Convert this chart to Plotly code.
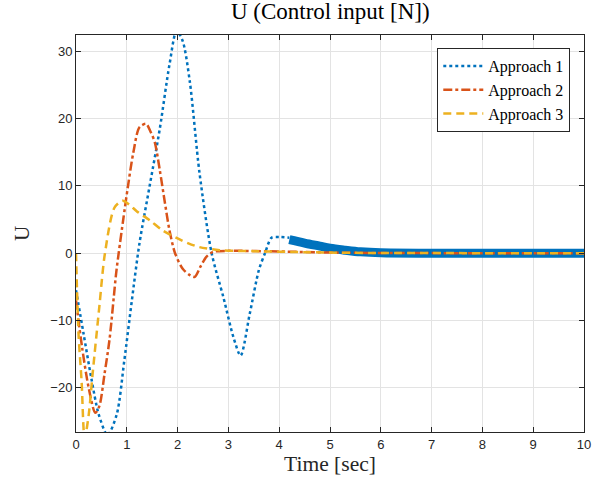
import plotly.graph_objects as go

# Approach 1 (transient part)
t1 = [0, 0.15, 0.3, 0.45, 0.62, 0.8, 0.95, 1.1, 1.25, 1.45, 1.65, 1.84, 1.98, 2.1, 2.24, 2.43,
      2.67, 2.9, 3.1, 3.24, 3.42, 3.6, 3.72, 3.85, 4.0, 4.2]
u1 = [-5.5, -12, -18.5, -24, -27, -24, -16, -7, 1.5, 10, 18.5, 28, 33, 31.5, 25.5, 12,
      0, -6.5, -12.5, -15.2, -9, -2.5, 0, 2.3, 2.4, 2.3]
# Approach 1 (chattering tail, drawn thick)
t1b = [4.2, 4.5, 4.8, 5.0, 5.3, 5.6, 6.0, 7.0, 8.0, 9.0, 10.0]
u1b = [2.0, 1.5, 1.05, 0.75, 0.45, 0.2, 0.05, 0.0, 0.0, 0.0, 0.0]

# Approach 2
t2 = [0, 0.12, 0.25, 0.38, 0.46, 0.56, 0.66, 0.79, 0.84, 0.93, 1.02, 1.13, 1.25, 1.38, 1.47,
      1.55, 1.65, 1.75, 1.84, 1.95, 2.1, 2.25, 2.34, 2.45, 2.57, 2.7, 3.0, 4.0, 5.0, 6.0, 10.0]
u2 = [-7, -14, -20, -23.7, -22.7, -18, -12.8, -3, 0, 5, 9.8, 15, 18.7, 19.2, 18,
      16.5, 12.3, 7.5, 3.4, 0, -2.3, -3.3, -3.5, -2, -0.5, 0.2, 0.35, 0.25, 0.1, 0.03, 0.0]

# Approach 3
t3 = [0, 0.05, 0.11, 0.17, 0.25, 0.33, 0.46, 0.57, 0.76, 0.92, 1.05, 1.2, 1.45, 1.7, 2.0,
      2.2, 2.43, 2.83, 3.5, 4.5, 5.5, 10.0]
u3 = [0, -12, -19, -27.5, -24, -17.7, -7.9, 0, 6.8, 7.8, 7.2, 6.2, 4.9, 3.4, 2.2,
      1.5, 0.9, 0.45, 0.3, 0.15, 0.05, 0.0]

names = ["Approach 1", "Approach 2", "Approach 3"]
colors = ["#0072BD", "#D95319", "#EDB120"]

xticks = [0, 1, 2, 3, 4, 5, 6, 7, 8, 9, 10]
yticks = [-20, -10, 0, 10, 20, 30]

serif = "Liberation Serif, Times New Roman, serif"

fig = go.Figure()
fig.add_trace(go.Scatter(x=t1b, y=u1b, mode="lines", showlegend=False, legendgroup="a1",
                         line=dict(color=colors[0], width=9, shape="spline", smoothing=1)))
fig.add_trace(go.Scatter(x=t1, y=u1, mode="lines", name=names[0], legendgroup="a1",
                         line=dict(color=colors[0], width=2.5, dash="dot", shape="spline", smoothing=0.8)))
fig.add_trace(go.Scatter(x=t2, y=u2, mode="lines", name=names[1],
                         line=dict(color=colors[1], width=2.5, dash="dashdot", shape="spline", smoothing=0.8)))
fig.add_trace(go.Scatter(x=t3, y=u3, mode="lines", name=names[2],
                         line=dict(color=colors[2], width=2.5, dash="8px,5px", shape="spline", smoothing=0.8)))

axis_common = dict(
    showline=True, linecolor="#262626", linewidth=1, mirror="allticks",
    ticks="inside", ticklen=5, tickcolor="#262626",
    showgrid=True, gridcolor="#e3e3e3", gridwidth=1, zeroline=False,
    tickfont=dict(family="Liberation Sans, Arial", size=13, color="#262626"),
)

fig.update_layout(
    width=606, height=490,
    margin=dict(l=76, r=22, t=35, b=58),
    paper_bgcolor="white", plot_bgcolor="white",
    title=dict(text="U (Control input [N])", x=0.545, xanchor="center", y=0.995, yanchor="top",
               font=dict(family=serif, size=23, color="#000")),
    xaxis=dict(range=[0, 10], tickvals=xticks,
               title=dict(text="Time [sec]", standoff=4,
                          font=dict(family=serif, size=21.5, color="#262626")),
               **axis_common),
    yaxis=dict(range=[-26.55, 32.4], tickvals=yticks,
               title=dict(text="U", standoff=14,
                          font=dict(family=serif, size=21, color="#262626")),
               **axis_common),
    legend=dict(x=0.973, xanchor="right", y=0.967, yanchor="top",
                bgcolor="white", bordercolor="#262626", borderwidth=1,
                font=dict(family=serif, size=16, color="#000"),
                tracegroupgap=0, itemwidth=40),
    showlegend=True,
)

fig.write_html("out.html", config={"displayModeBar": False},
               post_script="document.body.style.margin='0';document.body.style.overflow='hidden';")
